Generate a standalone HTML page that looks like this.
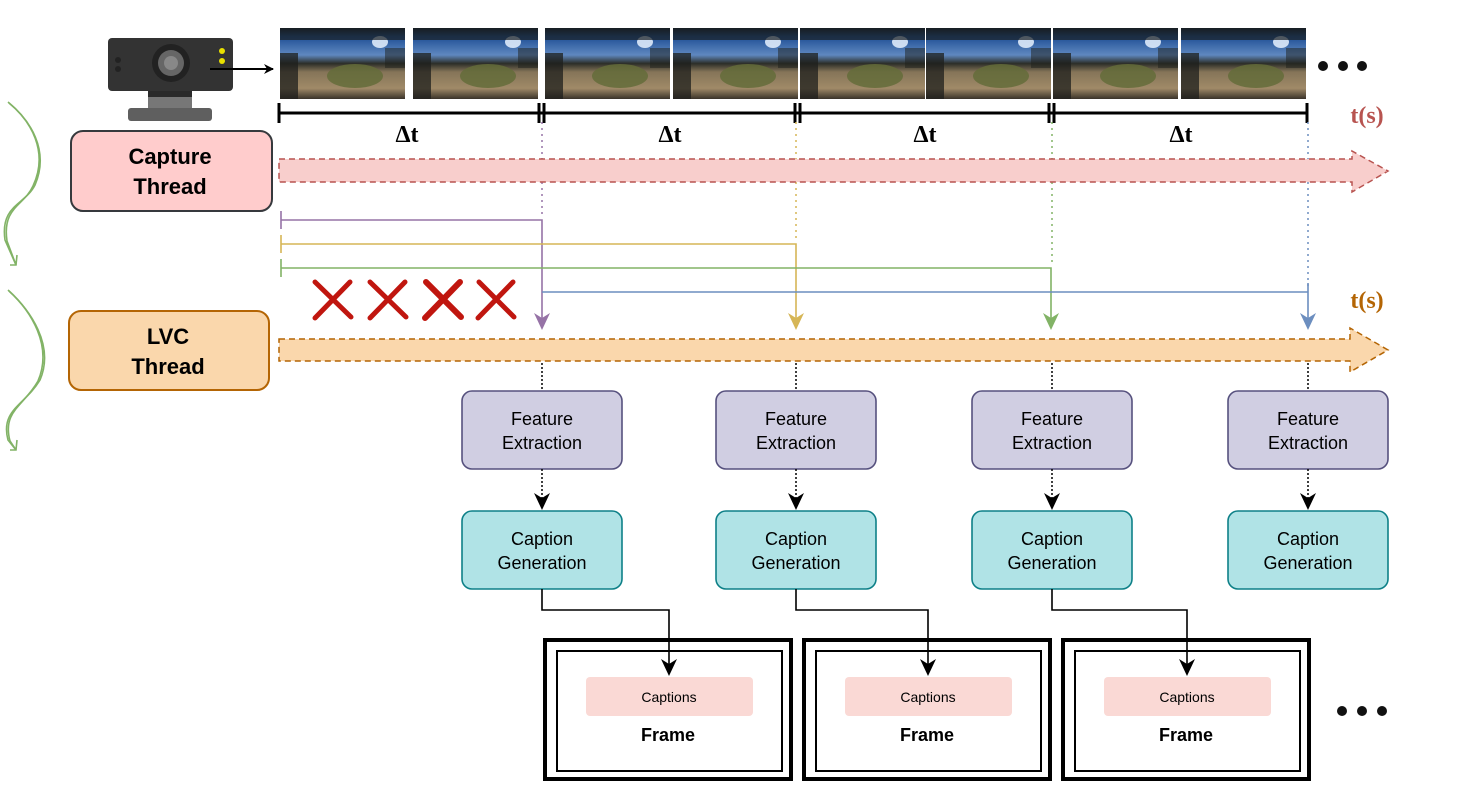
<!DOCTYPE html>
<html><head><meta charset="utf-8"><style>
html,body{margin:0;padding:0;background:#fff;}
svg{display:block;}
text{font-family:"Liberation Sans",sans-serif;}
text.ser{font-family:"Liberation Serif",serif;}
</style></head><body>
<svg width="1472" height="789" viewBox="0 0 1472 789" xmlns="http://www.w3.org/2000/svg">
<defs>
<linearGradient id="ph" x1="0" y1="0" x2="0" y2="1">
<stop offset="0" stop-color="#151c24"/>
<stop offset="0.12" stop-color="#1f4f95"/>
<stop offset="0.38" stop-color="#5f88c0"/>
<stop offset="0.5" stop-color="#2c2e28"/>
<stop offset="0.62" stop-color="#857458"/>
<stop offset="0.85" stop-color="#a08a68"/>
<stop offset="1" stop-color="#3a332a"/>
</linearGradient>
<g id="photo">
<rect x="0" y="0" width="125" height="71" fill="url(#ph)"/>
<ellipse cx="75" cy="48" rx="28" ry="12" fill="#646c3a" opacity="0.85"/>
<ellipse cx="100" cy="14" rx="8" ry="6" fill="#e8f2ff" opacity="0.85"/>
<rect x="0" y="0" width="125" height="12" fill="#1a1f22" opacity="0.7"/>
<rect x="0" y="25" width="18" height="46" fill="#1d1f1c" opacity="0.75"/>
<rect x="105" y="20" width="20" height="20" fill="#1d1f1c" opacity="0.5"/>
</g>
<marker id="ak" markerWidth="10" markerHeight="10" refX="9" refY="5" orient="auto" markerUnits="userSpaceOnUse"><path d="M0,0 L10,5 L0,10 L3,5z" fill="#000"/></marker>
</defs>

<g fill="none" stroke="#82b366" stroke-width="1.6">
<path d="M8,102 C30,120 50,150 35,185 C25,205 0,205 5,240 L16,265"/>
<path d="M9,103 C31,121 49,152 33,186 C24,206 2,207 7,241 L16,265"/>
<path d="M10,265 L16,265 L17,255"/>
<path d="M8,290 C30,310 55,345 40,380 C25,405 0,410 8,440 L16,450"/>
<path d="M9,291 C31,311 53,346 38,381 C24,406 2,411 10,441 L16,450"/>
<path d="M10,450 L16,450 L17,440"/>
</g>

<rect x="108" y="38" width="125" height="53" rx="4" fill="#333"/>
<circle cx="171" cy="63" r="19" fill="#222"/>
<circle cx="171" cy="63" r="13" fill="#666"/>
<circle cx="171" cy="63" r="7" fill="#888"/>
<circle cx="118" cy="60" r="3" fill="#222"/><circle cx="118" cy="69" r="3" fill="#222"/>
<circle cx="222" cy="51" r="3" fill="#e8e000"/><circle cx="222" cy="61" r="3" fill="#e8e000"/>
<rect x="148" y="91" width="44" height="18" fill="#777"/>
<rect x="148" y="91" width="44" height="6" fill="#2a2a2a"/>
<rect x="128" y="108" width="84" height="13" rx="3" fill="#5f5f5f"/>
<line x1="210" y1="69" x2="273" y2="69" stroke="#000" stroke-width="2" marker-end="url(#ak)"/>

<use href="#photo" x="280" y="28"/><use href="#photo" x="413" y="28"/>
<use href="#photo" x="545" y="28"/><use href="#photo" x="673" y="28"/>
<use href="#photo" x="800" y="28"/><use href="#photo" x="926" y="28"/>
<use href="#photo" x="1053" y="28"/><use href="#photo" x="1181" y="28"/>
<circle cx="1323" cy="66" r="5" fill="#111"/><circle cx="1343" cy="66" r="5" fill="#111"/><circle cx="1362" cy="66" r="5" fill="#111"/>

<g stroke="#000" stroke-width="3">
<line x1="279" y1="113" x2="1307" y2="113"/>
<line x1="279" y1="103" x2="279" y2="123"/>
<line x1="539" y1="103" x2="539" y2="123"/><line x1="544" y1="103" x2="544" y2="123"/>
<line x1="795" y1="103" x2="795" y2="123"/><line x1="800" y1="103" x2="800" y2="123"/>
<line x1="1049" y1="103" x2="1049" y2="123"/><line x1="1054" y1="103" x2="1054" y2="123"/>
<line x1="1307" y1="103" x2="1307" y2="123"/>
</g>
<g font-weight="bold" font-size="24" text-anchor="middle">
<text class="ser" x="407" y="142">Δt</text><text class="ser" x="670" y="142">Δt</text><text class="ser" x="925" y="142">Δt</text><text class="ser" x="1181" y="142">Δt</text>
</g>
<text class="ser" x="1367" y="123" font-weight="bold" font-size="24" fill="#b85450" text-anchor="middle">t(s)</text>
<text class="ser" x="1367" y="308" font-weight="bold" font-size="24" fill="#b46504" text-anchor="middle">t(s)</text>

<g stroke-width="1.5" stroke-dasharray="2,4" fill="none">
<line x1="542" y1="122" x2="542" y2="218" stroke="#9673a6"/>
<line x1="796" y1="122" x2="796" y2="242" stroke="#d6b656"/>
<line x1="1052" y1="122" x2="1052" y2="266" stroke="#82b366"/>
<line x1="1308" y1="122" x2="1308" y2="290" stroke="#6c8ebf"/>
</g>

<path d="M279,159 L1352,159 L1352,151 L1388,171 L1352,192 L1352,182 L279,182Z" fill="#f8cecc" stroke="#b85450" stroke-width="1.5" stroke-dasharray="6,4"/>
<path d="M279,339 L1350,339 L1350,328 L1388,350 L1350,372 L1350,361 L279,361Z" fill="#fad7ac" stroke="#b46504" stroke-width="1.5" stroke-dasharray="6,4"/>

<rect x="71" y="131" width="201" height="80" rx="12" fill="#ffcccc" stroke="#36393d" stroke-width="2"/>
<text x="170" y="164" font-size="22" font-weight="bold" text-anchor="middle">Capture</text>
<text x="170" y="194" font-size="22" font-weight="bold" text-anchor="middle">Thread</text>
<rect x="69" y="311" width="200" height="79" rx="12" fill="#fad7ac" stroke="#b46504" stroke-width="2"/>
<text x="168" y="344" font-size="22" font-weight="bold" text-anchor="middle">LVC</text>
<text x="168" y="374" font-size="22" font-weight="bold" text-anchor="middle">Thread</text>

<g fill="none" stroke-width="1.6">
<path d="M281,211 V229 M281,220 H542 V320" stroke="#9673a6"/>
<path d="M281,235 V253 M281,244 H796 V320" stroke="#d6b656"/>
<path d="M281,259 V277 M281,268 H1051 V320" stroke="#82b366"/>
<path d="M542,292 H1308 M1308,283 V320" stroke="#6c8ebf"/>
</g>
<path d="M534,313 L542,330 L550,313 L542,318Z" fill="#9673a6"/>
<path d="M788,313 L796,330 L804,313 L796,318Z" fill="#d6b656"/>
<path d="M1043,313 L1051,330 L1059,313 L1051,318Z" fill="#82b366"/>
<path d="M1300,313 L1308,330 L1316,313 L1308,318Z" fill="#6c8ebf"/>

<g stroke="#c0160f" stroke-width="5" stroke-linecap="round">
<path d="M315,282 L351,317 M350,282 L315,318"/>
<path d="M370,282 L406,317 M405,282 L370,318"/>
<path d="M426,282 L461,317 M460,282 L425,318" stroke-width="6"/>
<path d="M479,282 L514,317 M513,282 L478,318"/>
</g>

<g font-size="18" text-anchor="middle">
<g id="col">
<line x1="542" y1="363" x2="542" y2="391" stroke="#000" stroke-width="1.5" stroke-dasharray="2,2"/>
<rect x="462" y="391" width="160" height="78" rx="10" fill="#d0cee2" stroke="#56517e" stroke-width="1.6"/>
<text x="542" y="425">Feature</text><text x="542" y="449">Extraction</text>
<line x1="542" y1="469" x2="542" y2="500" stroke="#000" stroke-width="1.5" stroke-dasharray="2,2"/>
<path d="M534,493 L542,510 L550,493 L542,498Z" fill="#000"/>
<rect x="462" y="511" width="160" height="78" rx="10" fill="#b0e3e6" stroke="#0e8088" stroke-width="1.6"/>
<text x="542" y="545">Caption</text><text x="542" y="569">Generation</text>
</g>
<use href="#col" x="254"/><use href="#col" x="510"/><use href="#col" x="766"/>
</g>

<g>
<rect x="545" y="640" width="246" height="139" fill="#fff" stroke="#000" stroke-width="4"/>
<rect x="557" y="651" width="225" height="120" fill="none" stroke="#000" stroke-width="2"/>
<rect x="586" y="677" width="167" height="39" rx="4" fill="#fad9d5"/>
<text x="669" y="702" font-size="14" text-anchor="middle">Captions</text>
<text x="668" y="741" font-size="18" font-weight="bold" text-anchor="middle">Frame</text>
<path d="M542,589 V610 H669 V668" fill="none" stroke="#000" stroke-width="1.6"/>
<path d="M661,659 L669,676 L677,659 L669,664Z" fill="#000"/>
</g>
<g transform="translate(259,0)">
<rect x="545" y="640" width="246" height="139" fill="#fff" stroke="#000" stroke-width="4"/>
<rect x="557" y="651" width="225" height="120" fill="none" stroke="#000" stroke-width="2"/>
<rect x="586" y="677" width="167" height="39" rx="4" fill="#fad9d5"/>
<text x="669" y="702" font-size="14" text-anchor="middle">Captions</text>
<text x="668" y="741" font-size="18" font-weight="bold" text-anchor="middle">Frame</text>
<path d="M537,589 V610 H669 V668" fill="none" stroke="#000" stroke-width="1.6"/>
<path d="M661,659 L669,676 L677,659 L669,664Z" fill="#000"/>
</g>
<g transform="translate(518,0)">
<rect x="545" y="640" width="246" height="139" fill="#fff" stroke="#000" stroke-width="4"/>
<rect x="557" y="651" width="225" height="120" fill="none" stroke="#000" stroke-width="2"/>
<rect x="586" y="677" width="167" height="39" rx="4" fill="#fad9d5"/>
<text x="669" y="702" font-size="14" text-anchor="middle">Captions</text>
<text x="668" y="741" font-size="18" font-weight="bold" text-anchor="middle">Frame</text>
<path d="M534,589 V610 H669 V668" fill="none" stroke="#000" stroke-width="1.6"/>
<path d="M661,659 L669,676 L677,659 L669,664Z" fill="#000"/>
</g>
<circle cx="1342" cy="711" r="5" fill="#111"/><circle cx="1362" cy="711" r="5" fill="#111"/><circle cx="1382" cy="711" r="5" fill="#111"/>
</svg>
</body></html>
